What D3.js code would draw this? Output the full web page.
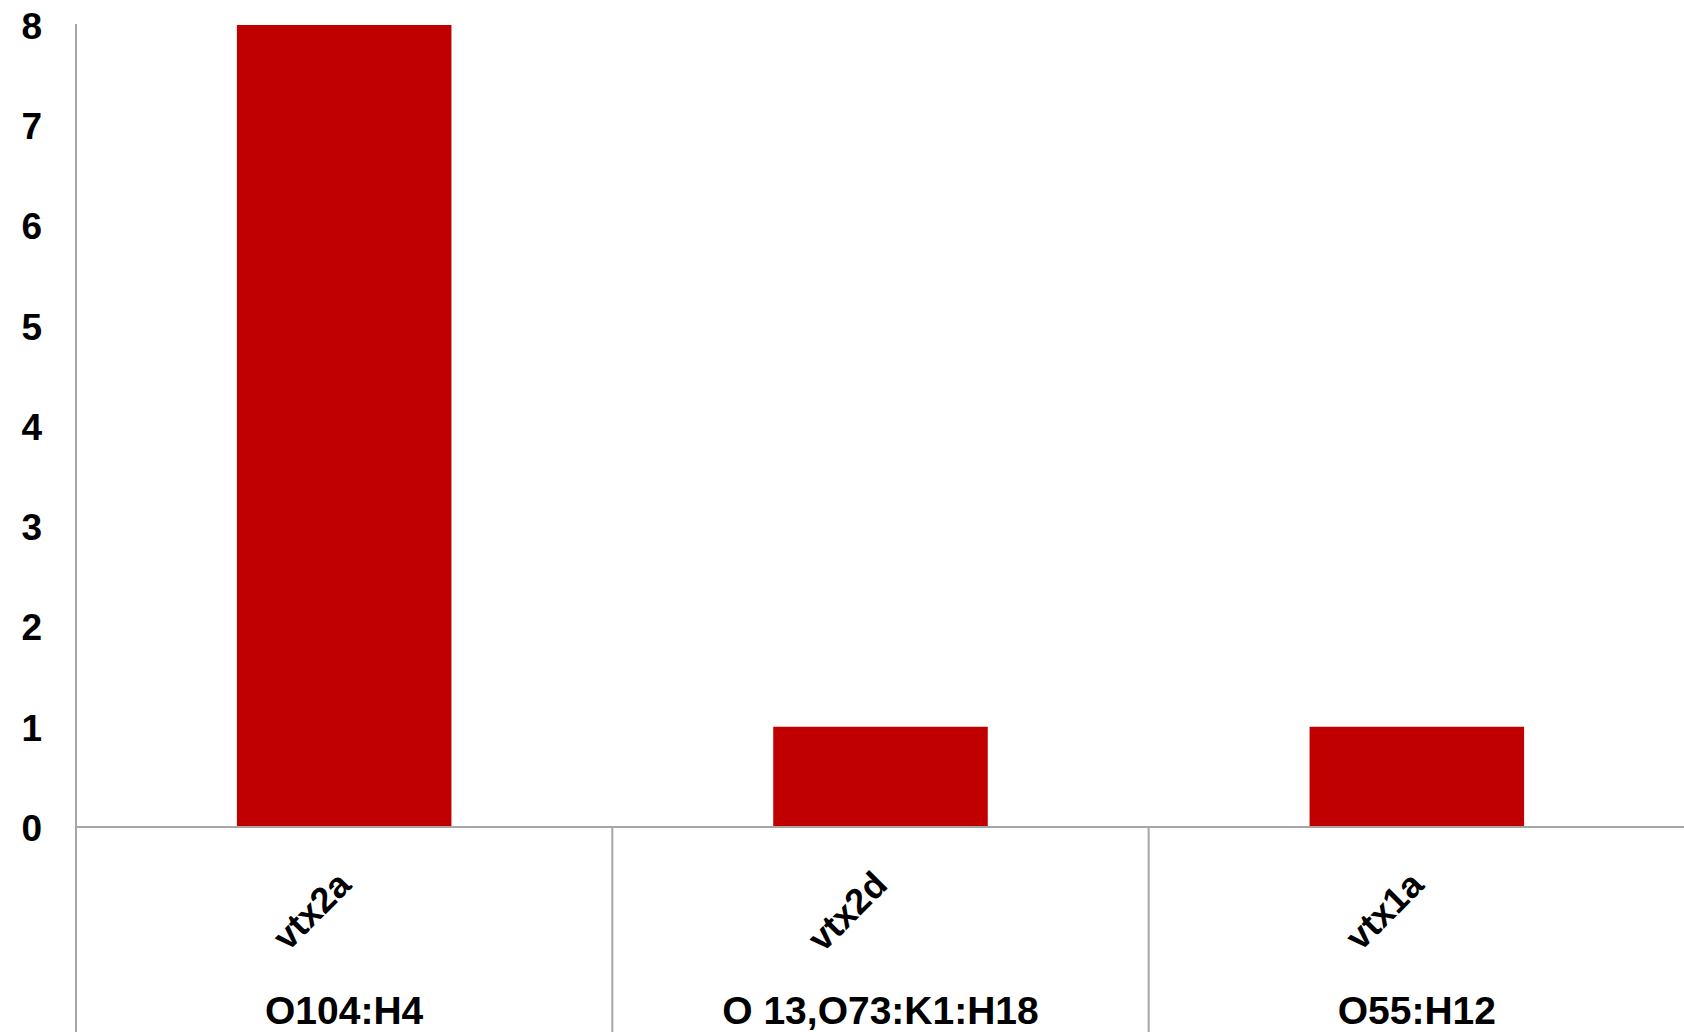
<!DOCTYPE html>
<html>
<head>
<meta charset="utf-8">
<script src="https://cdn.jsdelivr.net/npm/d3@7"></script>
<style>
  html, body { margin: 0; padding: 0; background: #fff; }
  svg { display: block; }
  text { font-family: "Liberation Sans", Arial, sans-serif; font-weight: bold; fill: #000; }
</style>
</head>
<body>
<svg id="chart" width="1684" height="1032"></svg>
<script>
// Shiga toxin gene subtypes and the serotypes they were found in
const genes = ["vtx2a", "vtx2d", "vtx1a"];
const serotypes = ["O104:H4", "O 13,O73:K1:H18", "O55:H12"];
const counts = [8, 1, 1];
const yTicks = [0, 1, 2, 3, 4, 5, 6, 7, 8];

const W = 1684, H = 1032;
const plotLeft = 76, plotRight = 1685, plotTop = 25, baseY = 827;

const svg = d3.select("#chart");

const x = d3.scaleBand().domain(genes).range([plotLeft, plotRight]).paddingInner(0).paddingOuter(0);
const y = d3.scaleLinear().domain([0, 8]).range([baseY, plotTop]);

const barW = x.bandwidth() * 0.4;
const lineColor = "#a6a6a6";

// bars
svg.append("g").selectAll("rect")
  .data(genes)
  .join("rect")
  .attr("x", (d) => x(d) + x.bandwidth() / 2 - barW / 2)
  .attr("width", barW)
  .attr("y", (d, i) => y(counts[i]))
  .attr("height", (d, i) => y(0) - y(counts[i]))
  .attr("fill", "#c00000");

// y axis labels
const yAxis = svg.append("g")
  .attr("transform", `translate(${plotLeft},0)`)
  .call(d3.axisLeft(y).tickValues(yTicks).tickSize(0).tickPadding(34).tickFormat(d3.format("d")));
yAxis.select(".domain").remove();
yAxis.selectAll("text")
  .attr("font-size", 37)
  .attr("font-family", "Liberation Sans, Arial, sans-serif")
  .attr("font-weight", "bold")
  .attr("fill", "#000")
  .attr("dy", "0.36em");

// axis frame lines
svg.append("line")
  .attr("x1", plotLeft).attr("x2", plotLeft)
  .attr("y1", plotTop - 1).attr("y2", H)
  .attr("stroke", lineColor).attr("stroke-width", 2);
svg.append("line")
  .attr("x1", plotLeft).attr("x2", W)
  .attr("y1", baseY).attr("y2", baseY)
  .attr("stroke", lineColor).attr("stroke-width", 2);

// category dividers below the baseline
svg.append("g").selectAll("line")
  .data(genes.slice(1))
  .join("line")
  .attr("x1", (d) => x(d)).attr("x2", (d) => x(d))
  .attr("y1", baseY).attr("y2", H)
  .attr("stroke", lineColor).attr("stroke-width", 2);

// rotated gene labels
svg.append("g").selectAll("text")
  .data(genes)
  .join("text")
  .attr("transform", (d) => `translate(${x(d) + x.bandwidth() / 2 - 9},${baseY + 42}) rotate(-45)`)
  .attr("text-anchor", "end")
  .attr("dy", "0.7em")
  .attr("font-size", 36)
  .text((d) => d);

// serotype group labels
svg.append("g").selectAll("text")
  .data(genes)
  .join("text")
  .attr("x", (d) => x(d) + x.bandwidth() / 2)
  .attr("y", 1024)
  .attr("text-anchor", "middle")
  .attr("font-size", 39)
  .text((d, i) => serotypes[i]);
</script>
</body>
</html>
